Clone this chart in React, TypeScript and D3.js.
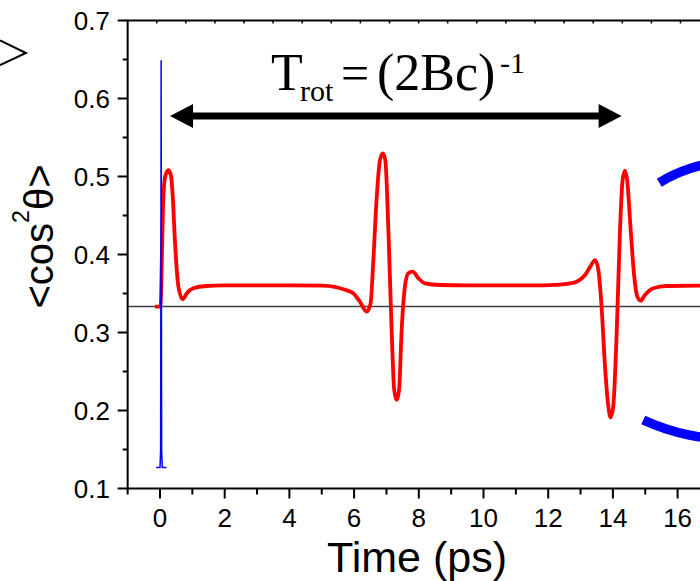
import React from "react";
import * as d3 from "d3";

// ---- data ----
const redTime = [
  -0.155, -0.02, 0.02, 0.06, 0.1, 0.16, 0.26, 0.34, 0.4, 0.46, 0.57, 0.7, 0.83, 1.03, 1.44, 2.0, 3.0, 4.0, 5.0,
  5.4, 5.667, 5.975, 6.18, 6.39, 6.51, 6.59, 6.7, 6.8, 6.885, 6.965, 7.06, 7.16, 7.24, 7.317, 7.39, 7.47, 7.57,
  7.675, 7.81, 7.99, 8.19, 8.66, 9.5, 10.5, 11.54, 12.2, 12.57, 12.88, 13.14, 13.3, 13.45, 13.55, 13.65, 13.75,
  13.86, 13.93, 14.01, 14.12, 14.22, 14.3, 14.37, 14.44, 14.55, 14.65, 14.755, 14.86, 14.99, 15.25, 15.66, 16.69,
  17.5,
];
const redValue = [
  0.3333, 0.3333, 0.334, 0.4, 0.47, 0.5, 0.508, 0.501, 0.47, 0.4186, 0.3587, 0.3426, 0.3503, 0.3567, 0.3596,
  0.3603, 0.3605, 0.3605, 0.36, 0.3585, 0.3554, 0.3503, 0.3395, 0.3267, 0.3374, 0.3887, 0.4741, 0.521, 0.5297,
  0.521, 0.4314, 0.3032, 0.2263, 0.2135, 0.2263, 0.3032, 0.3587, 0.3759, 0.378, 0.3695, 0.3631, 0.3609, 0.3603,
  0.3603, 0.3603, 0.361, 0.3622, 0.3651, 0.3737, 0.3844, 0.3929, 0.3801, 0.3331, 0.2605, 0.2049, 0.1913, 0.2049,
  0.3032, 0.4314, 0.4955, 0.5074, 0.4955, 0.4314, 0.3759, 0.346, 0.3408, 0.3481, 0.3567, 0.3596, 0.36, 0.36,
];
const blueTime = [-0.12, 0.0, 0.02, 0.03, 0.035, 0.04, 0.05, 0.07, 0.2];
const blueValue = [0.127, 0.127, 0.15, 0.45, 0.649, 0.45, 0.15, 0.127, 0.127];

const xTickValues = [0, 2, 4, 6, 8, 10, 12, 14, 16];
const xMinorValues = [-1, 1, 3, 5, 7, 9, 11, 13, 15, 17];
const yTickValues = [0.1, 0.2, 0.3, 0.4, 0.5, 0.6, 0.7];
const yMinorValues = [0.15, 0.25, 0.35, 0.45, 0.55, 0.65];
const topTickIndex = d3.range(0, 19);
const isotropicValue = 1 / 3;
const arrowStart = 0.31;
const arrowEnd = 14.27;
const arrowValue = 0.5775;

// decorative blue ring segments (pixel geometry of the decoration)
const ringArcs = [
  { cx: 732.8, cy: 301.35, r: 139.6, a0: -0.5547, a1: 0.4 },
  { cx: 732.8, cy: 224.5, r: 215, a0: -2.7119, a1: -3.6 },
];

const W = 700;
const H = 581;
const SANS = "'Liberation Sans', Arial, sans-serif";
const SERIF = "'Liberation Serif', 'Times New Roman', serif";

export default function App() {
  const x = d3.scaleLinear().domain([-1, 18]).range([127.65, 127.65 + 19 * 32.35]);
  const y = d3.scaleLinear().domain([0.1, 0.7]).range([488.5, 20.5]);
  const xTop = d3.scaleLinear().domain([0, 1]).range([156.7, 185.8]);

  const redPts = redTime.map((t, i) => [t, redValue[i]] as [number, number]);
  const bluePts = blueTime.map((t, i) => [t, blueValue[i]] as [number, number]);

  const redLine = d3
    .line<[number, number]>()
    .x((d) => x(d[0]))
    .y((d) => y(d[1]))
    .curve(d3.curveMonotoneX);
  const blueLine = d3
    .line<[number, number]>()
    .x((d) => x(d[0]))
    .y((d) => y(d[1]))
    .curve(d3.curveLinear);

  const left = x(-1);
  const top = y(0.7);
  const bottom = y(0.1);

  // arrow geometry
  const ay = y(arrowValue);
  const ax0 = x(arrowStart);
  const ax1 = x(arrowEnd);
  const headL = 23;
  const headH = 12;
  const shaft = 3.5;
  const arrowPath = [
    [ax0, ay],
    [ax0 + headL, ay - headH],
    [ax0 + headL, ay - shaft],
    [ax1 - headL, ay - shaft],
    [ax1 - headL, ay - headH],
    [ax1, ay],
    [ax1 - headL, ay + headH],
    [ax1 - headL, ay + shaft],
    [ax0 + headL, ay + shaft],
    [ax0 + headL, ay + headH],
  ];

  const arcGen = d3.arc<any>();

  return (
    <svg
      width={W}
      height={H}
      viewBox={`0 0 ${W} ${H}`}
      style={{ position: "absolute", left: 0, top: 0, background: "#fff", overflow: "hidden" }}
    >
      <rect x={0} y={0} width={W} height={H} fill="#fff" />

      {/* remnant of neighbouring panel label */}
      <polyline points="0,40.5 26,53 0,65" fill="none" stroke="#000" strokeWidth={2} />

      {/* isotropic reference line */}
      <line x1={left} x2={W} y1={y(isotropicValue)} y2={y(isotropicValue)} stroke="#404040" strokeWidth={1.6} />

      {/* data */}
      <path d={redLine(redPts) || ""} fill="none" stroke="#ff0000" strokeWidth={3.8} strokeLinejoin="round" />
      <path d={blueLine(bluePts) || ""} fill="none" stroke="#0000ff" strokeWidth={1.5} />

      {/* ring decoration */}
      {ringArcs.map((a, i) => (
        <path
          key={i}
          transform={`translate(${a.cx},${a.cy})`}
          d={
            arcGen({
              innerRadius: a.r - 4.7,
              outerRadius: a.r + 4.7,
              startAngle: Math.min(a.a0, a.a1),
              endAngle: Math.max(a.a0, a.a1),
            }) || ""
          }
          fill="#0000ff"
        />
      ))}

      {/* axes frame */}
      <line x1={left} x2={W} y1={top} y2={top} stroke="#000" strokeWidth={2} />
      <line x1={left} x2={W} y1={bottom} y2={bottom} stroke="#000" strokeWidth={2} />
      <line x1={left} x2={left} y1={top - 1} y2={bottom + 1} stroke="#000" strokeWidth={2} />

      {/* top ticks */}
      {topTickIndex
        .filter((i) => xTop(i) < W)
        .map((i) => (
          <line key={"tt" + i} x1={xTop(i)} x2={xTop(i)} y1={top} y2={top + 3} stroke="#000" strokeWidth={1.5} />
        ))}

      {/* x ticks */}
      {xTickValues.map((v) => (
        <g key={"x" + v}>
          <line x1={x(v)} x2={x(v)} y1={bottom} y2={bottom + 10} stroke="#000" strokeWidth={2} />
          <text x={x(v)} y={527} textAnchor="middle" fontFamily={SANS} fontSize={26} fill="#000">
            {v}
          </text>
        </g>
      ))}
      {xMinorValues.map((v) => (
        <line key={"xm" + v} x1={x(v)} x2={x(v)} y1={bottom} y2={bottom + 6} stroke="#000" strokeWidth={2} />
      ))}

      {/* y ticks */}
      {yTickValues.map((v) => (
        <g key={"y" + v}>
          <line x1={left - 10} x2={left} y1={y(v)} y2={y(v)} stroke="#000" strokeWidth={2} />
          <text x={110} y={y(v) + 9.3} textAnchor="end" fontFamily={SANS} fontSize={26} fill="#000">
            {v.toFixed(1)}
          </text>
        </g>
      ))}
      {yMinorValues.map((v) => (
        <line key={"ym" + v} x1={left - 5} x2={left} y1={y(v)} y2={y(v)} stroke="#000" strokeWidth={2} />
      ))}

      {/* axis titles */}
      <text x={417} y={572} textAnchor="middle" fontFamily={SANS} fontSize={43} fill="#000">
        Time (ps)
      </text>
      <text
        transform="translate(53,236.5) rotate(-90)"
        textAnchor="middle"
        fontFamily={SANS}
        fontSize={40}
        fill="#000"
      >
        {"<cos"}
        <tspan fontSize={23} dy={-24}>
          2
        </tspan>
        <tspan dy={24}>{"θ>"}</tspan>
      </text>

      {/* revival period annotation */}
      <path d={d3.line()(arrowPath as [number, number][]) + "Z"} fill="#000" />
      <text fontFamily={SERIF} fill="#000">
        <tspan x={271} y={90} fontSize={52}>
          T
        </tspan>
        <tspan x={300} y={101} fontSize={30}>
          rot
        </tspan>
        <tspan x={341} y={90} fontSize={50}>
          =
        </tspan>
        <tspan x={377} y={90} fontSize={52}>
          (2Bc)
        </tspan>
        <tspan x={500} y={73} fontSize={30}>
          -1
        </tspan>
      </text>
    </svg>
  );
}
